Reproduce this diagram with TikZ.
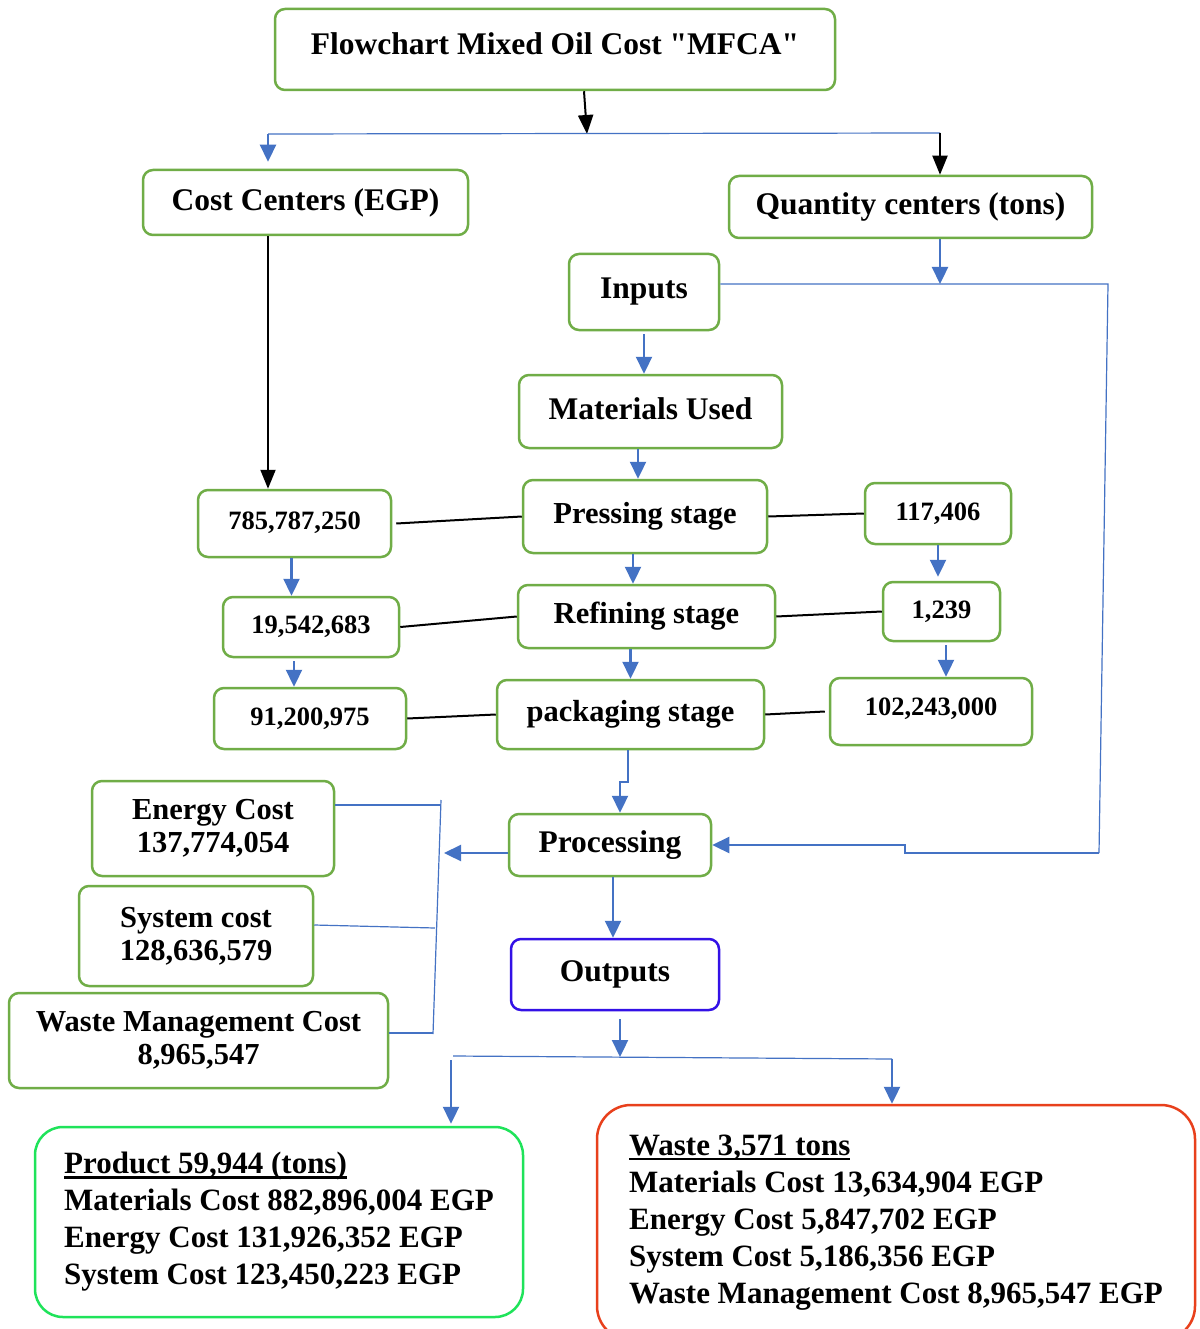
\documentclass[tikz,border=0pt]{standalone}
\usepackage{fontspec}
\setmainfont{Liberation Serif}
\usetikzlibrary{arrows.meta}
\definecolor{boxgreen}{HTML}{70AD47}
\definecolor{lineblue}{HTML}{4472C4}
\definecolor{outblue}{HTML}{3311E6}
\definecolor{prodgreen}{HTML}{1FE35A}
\definecolor{wastered}{HTML}{E8401C}
\newcommand\mainfnt{\fontsize{31.5}{34}\selectfont\bfseries}
\newcommand\stagefnt{\fontsize{30.5}{33}\selectfont\bfseries}
\newcommand\numfnt{\fontsize{26.5}{30}\selectfont\bfseries}
\newcommand\bottomfnt{\fontsize{31}{37}\selectfont\bfseries}
\newcommand\thul[1]{\setbox0\hbox{#1}\rlap{\rule[-5pt]{\wd0}{2.6pt}}\box0}
\begin{document}
\begin{tikzpicture}[x=1pt,y=-1pt,
  box/.style={draw=boxgreen, line width=2.5pt, rounded corners=10pt, fill=white, inner sep=0pt, align=center, font=\mainfnt},
  stagebox/.style={box, font=\stagefnt},
  numbox/.style={box, font=\numfnt},
  barrow/.style={draw=lineblue, line width=2.3pt, -{Triangle[width=16pt,length=17pt]}},
  bline/.style={draw=lineblue, line width=1.2pt},
  karrow/.style={draw=black, line width=2pt, -{Triangle[width=15pt,length=19pt]}},
  kline/.style={draw=black, line width=2pt}]
\useasboundingbox (0,0) rectangle (1199,1329);
\fill[white] (0,0) rectangle (1199,1329);

% nodes
\node[box, minimum width=560, minimum height=81] (title) at (555,49.5) {\raisebox{12pt}{Flowchart Mixed Oil Cost \textquotedbl MFCA\textquotedbl}};
\node[box, minimum width=325, minimum height=65] (cost) at (305.5,202.5) {\raisebox{-3pt}{Cost Centers (EGP)}};
\node[box, minimum width=363, minimum height=62] (qty) at (910.5,207) {\raisebox{-3pt}{Quantity centers (tons)}};
\node[box, minimum width=150, minimum height=76] (inputs) at (644,292) {\raisebox{8pt}{Inputs}};
\node[box, minimum width=263, minimum height=73] (mat) at (650.5,411.5) {\raisebox{6pt}{Materials Used}};
\node[stagebox, minimum width=244, minimum height=73] (press) at (645,516.5) {\raisebox{6pt}{Pressing stage}};
\node[stagebox, minimum width=257, minimum height=63] (refin) at (646.5,616.5) {Refining stage};
\node[stagebox, minimum width=267, minimum height=69] (pack) at (630.5,714.5) {packaging stage};
\node[numbox, minimum width=193, minimum height=67] (c1) at (294.5,523.5) {\raisebox{6pt}{785,787,250}};
\node[numbox, minimum width=176, minimum height=60] (c2) at (311,627) {19,542,683};
\node[numbox, minimum width=192, minimum height=61] (c3) at (310,718.5) {91,200,975};
\node[numbox, minimum width=146, minimum height=61] (q1) at (938,513.5) {117,406};
\node[numbox, minimum width=117, minimum height=59] (q2) at (941.5,611.5) {1,239};
\node[numbox, minimum width=202, minimum height=67] (q3) at (931,711.5) {\raisebox{9pt}{102,243,000}};
\node[stagebox, minimum width=242, minimum height=95] (energy) at (213,828.5) {Energy Cost\\137,774,054};
\node[stagebox, minimum width=234, minimum height=100] (system) at (196,936) {System cost\\128,636,579};
\node[stagebox, minimum width=379, minimum height=95] (wm) at (198.5,1040.5) {Waste Management Cost\\8,965,547};
\node[box, minimum width=202, minimum height=62] (proc) at (610,845) {\raisebox{-3pt}{Processing}};
\node[box, draw=outblue, minimum width=208, minimum height=71] (out) at (615,974.5) {Outputs};
\node[box, draw=prodgreen, minimum width=488, minimum height=190, rounded corners=28pt, align=left, font=\bottomfnt] (prod) at (279,1222) {\thul{Product 59,944 (tons)}\\Materials Cost 882,896,004 EGP\\Energy Cost 131,926,352 EGP\\System Cost 123,450,223 EGP};
\node[box, draw=wastered, minimum width=598, minimum height=235, rounded corners=34pt, align=left, font=\bottomfnt] (waste) at (896,1222.5) {\thul{Waste 3,571 tons}\\Materials Cost 13,634,904 EGP\\Energy Cost 5,847,702 EGP\\System Cost 5,186,356 EGP\\Waste Management Cost 8,965,547 EGP};

% helper coordinates
\coordinate (j1) at (587,134);
\coordinate (jl) at (268,134);
\coordinate (jr) at (940,133);
\coordinate (rt) at (1108,284);
\coordinate (rb) at (1099,853);
\coordinate (rk) at (905,853);
\coordinate (ca) at (444,853);
\coordinate (vt) at (441,800);
\coordinate (vb) at (433,1034);
\coordinate (e1) at (441,805);
\coordinate (s1) at (435,928);
\coordinate (w1) at (433,1033);
\coordinate (oj) at (620,1057);
\coordinate (sl) at (453,1056);
\coordinate (sr) at (892,1059);

% top split
\draw[karrow] (title.south -| 584,0) -- (j1);
\draw[bline] (jl) -- (jr);
\draw[barrow] (jl) -- ([yshift=7pt]cost.north -| jl);
\draw[karrow] (jr) -- (qty.north -| jr);
\draw[karrow] (cost.south -| jl) -- (c1.north -| jl);

% quantity side
\draw[barrow] (qty.south -| jr) -- (jr |- rt);
\draw[bline] (inputs.east |- rt) -- (rt) -- (rb);
\draw[barrow] (rb) -- (rk) -- (rk |- proc.east) -- (proc.east);

% central flow
\draw[barrow] ([yshift=-3pt]inputs.south) -- (inputs.south |- mat.north);
\draw[barrow] ([xshift=-12.5pt]mat.south) -- ([xshift=-12.5pt]mat.south |- press.north);
\draw[barrow] ([xshift=-12pt]press.south) -- ([xshift=-12pt]press.south |- refin.north);
\draw[barrow] ([xshift=-16pt]refin.south) -- ([xshift=-16pt]refin.south |- pack.north);
\draw[barrow] ([xshift=-2.5pt]pack.south) -- ++(0,32) -| ([xshift=10pt]proc.north);

% side columns
\draw[barrow] ([xshift=-3pt]c1.south) -- ([xshift=-3pt]c1.south |- c2.north);
\draw[barrow] ([xshift=-17pt,yshift=-3pt]c2.south) -- ([xshift=-17pt]c2.south |- c3.north);
\draw[barrow] (q1.south) -- ([yshift=4pt]q1.south |- q2.north);
\draw[barrow] ([xshift=4.5pt,yshift=-3pt]q2.south) -- ([xshift=4.5pt]q2.south |- q3.north);

% horizontal black links
\draw[kline] ([xshift=4pt]c1.east) -- (press.west);
\draw[kline] (c2.east) -- (refin.west);
\draw[kline] (c3.east) -- (pack.west);
\draw[kline] (press.east) -- (q1.west);
\draw[kline] (refin.east) -- (q2.west);
\draw[kline] (pack.east) -- ([xshift=-4pt]q3.west);

% processing to costs
\draw[barrow] (proc.west |- ca) -- (ca);
\draw[bline] (vt) -- (vb);
\draw[bline] (energy.east |- e1) -- (e1);
\draw[bline] ([yshift=11pt]system.east) -- (s1);
\draw[bline] (wm.east |- w1) -- (w1);

% outputs
\draw[barrow] ([xshift=3pt]proc.south) -- ([xshift=3pt]proc.south |- out.north);
\draw[barrow] ([yshift=-8pt]out.south -| oj) -- (oj);
\draw[bline] (sl) -- (sr);
\draw[barrow] ([yshift=-4pt]sl -| 451,0) -- ([yshift=2pt]prod.north -| 451,0);
\draw[barrow] (sr) -- (sr |- waste.north);
\end{tikzpicture}
\end{document}
